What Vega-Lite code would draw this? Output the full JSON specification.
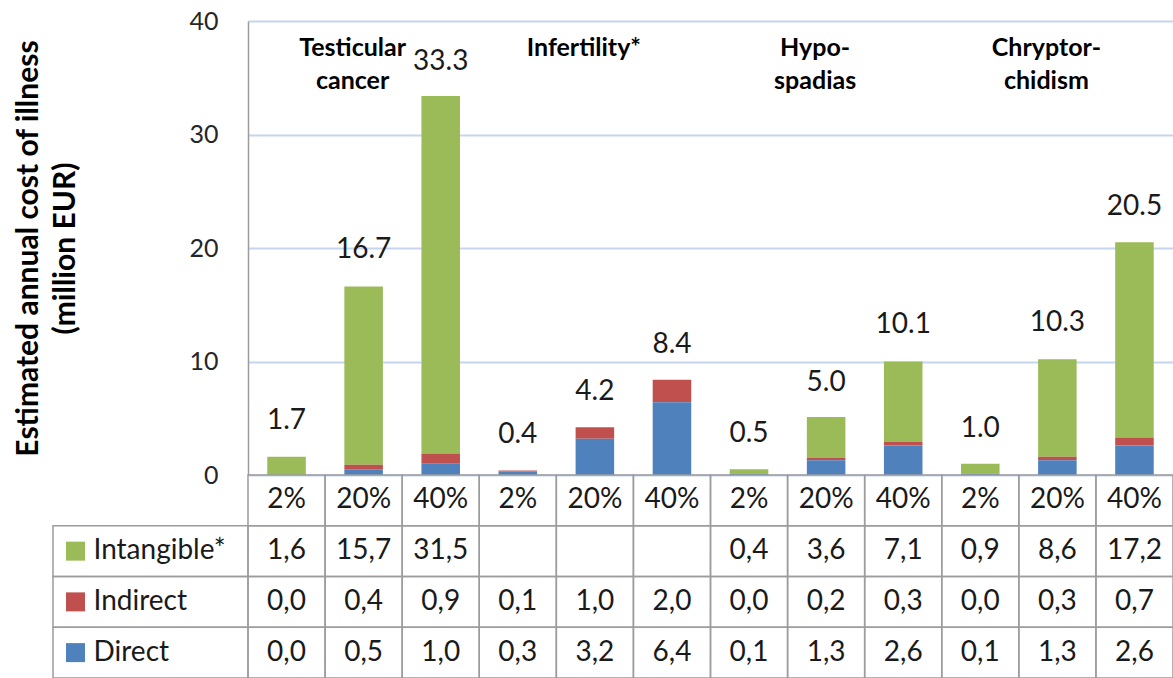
{
  "$schema": "https://vega.github.io/schema/vega-lite/v6.json",
  "width": 925,
  "height": 454,
  "autosize": {"type": "none"},
  "padding": {"left": 248, "top": 21, "right": 0, "bottom": 203},
  "background": "white",
  "config": {
    "font": "Lato",
    "view": {"stroke": null},
    "axis": {"labelFont": "Lato", "titleFont": "Lato"}
  },
  "datasets": {
    "bars": [
      {"disease": "Testicular cancer", "scenario": "2%", "component": "Intangible*", "value": 1.6},
      {"disease": "Testicular cancer", "scenario": "2%", "component": "Indirect", "value": 0.0},
      {"disease": "Testicular cancer", "scenario": "2%", "component": "Direct", "value": 0.0},
      {"disease": "Testicular cancer", "scenario": "20%", "component": "Intangible*", "value": 15.7},
      {"disease": "Testicular cancer", "scenario": "20%", "component": "Indirect", "value": 0.4},
      {"disease": "Testicular cancer", "scenario": "20%", "component": "Direct", "value": 0.5},
      {"disease": "Testicular cancer", "scenario": "40%", "component": "Intangible*", "value": 31.5},
      {"disease": "Testicular cancer", "scenario": "40%", "component": "Indirect", "value": 0.9},
      {"disease": "Testicular cancer", "scenario": "40%", "component": "Direct", "value": 1.0},
      {"disease": "Infertility*", "scenario": "2%", "component": "Intangible*", "value": null},
      {"disease": "Infertility*", "scenario": "2%", "component": "Indirect", "value": 0.1},
      {"disease": "Infertility*", "scenario": "2%", "component": "Direct", "value": 0.3},
      {"disease": "Infertility*", "scenario": "20%", "component": "Intangible*", "value": null},
      {"disease": "Infertility*", "scenario": "20%", "component": "Indirect", "value": 1.0},
      {"disease": "Infertility*", "scenario": "20%", "component": "Direct", "value": 3.2},
      {"disease": "Infertility*", "scenario": "40%", "component": "Intangible*", "value": null},
      {"disease": "Infertility*", "scenario": "40%", "component": "Indirect", "value": 2.0},
      {"disease": "Infertility*", "scenario": "40%", "component": "Direct", "value": 6.4},
      {"disease": "Hypospadias", "scenario": "2%", "component": "Intangible*", "value": 0.4},
      {"disease": "Hypospadias", "scenario": "2%", "component": "Indirect", "value": 0.0},
      {"disease": "Hypospadias", "scenario": "2%", "component": "Direct", "value": 0.1},
      {"disease": "Hypospadias", "scenario": "20%", "component": "Intangible*", "value": 3.6},
      {"disease": "Hypospadias", "scenario": "20%", "component": "Indirect", "value": 0.2},
      {"disease": "Hypospadias", "scenario": "20%", "component": "Direct", "value": 1.3},
      {"disease": "Hypospadias", "scenario": "40%", "component": "Intangible*", "value": 7.1},
      {"disease": "Hypospadias", "scenario": "40%", "component": "Indirect", "value": 0.3},
      {"disease": "Hypospadias", "scenario": "40%", "component": "Direct", "value": 2.6},
      {"disease": "Chryptorchidism", "scenario": "2%", "component": "Intangible*", "value": 0.9},
      {"disease": "Chryptorchidism", "scenario": "2%", "component": "Indirect", "value": 0.0},
      {"disease": "Chryptorchidism", "scenario": "2%", "component": "Direct", "value": 0.1},
      {"disease": "Chryptorchidism", "scenario": "20%", "component": "Intangible*", "value": 8.6},
      {"disease": "Chryptorchidism", "scenario": "20%", "component": "Indirect", "value": 0.3},
      {"disease": "Chryptorchidism", "scenario": "20%", "component": "Direct", "value": 1.3},
      {"disease": "Chryptorchidism", "scenario": "40%", "component": "Intangible*", "value": 17.2},
      {"disease": "Chryptorchidism", "scenario": "40%", "component": "Indirect", "value": 0.7},
      {"disease": "Chryptorchidism", "scenario": "40%", "component": "Direct", "value": 2.6}
    ],
    "totals": [
      {"disease": "Testicular cancer", "scenario": "2%", "total": 1.7},
      {"disease": "Testicular cancer", "scenario": "20%", "total": 16.7},
      {"disease": "Testicular cancer", "scenario": "40%", "total": 33.3},
      {"disease": "Infertility*", "scenario": "2%", "total": 0.4},
      {"disease": "Infertility*", "scenario": "20%", "total": 4.2},
      {"disease": "Infertility*", "scenario": "40%", "total": 8.4},
      {"disease": "Hypospadias", "scenario": "2%", "total": 0.5},
      {"disease": "Hypospadias", "scenario": "20%", "total": 5.0},
      {"disease": "Hypospadias", "scenario": "40%", "total": 10.1},
      {"disease": "Chryptorchidism", "scenario": "2%", "total": 1.0},
      {"disease": "Chryptorchidism", "scenario": "20%", "total": 10.3},
      {"disease": "Chryptorchidism", "scenario": "40%", "total": 20.5}
    ],
    "headers": [
      {"disease": "Testicular cancer", "label": "Testicular\ncancer"},
      {"disease": "Infertility*", "label": "Infertility*"},
      {"disease": "Hypospadias", "label": "Hypo-\nspadias"},
      {"disease": "Chryptorchidism", "label": "Chryptor-\nchidism"}
    ],
    "legend": [
      {"component": "Intangible*"},
      {"component": "Indirect"},
      {"component": "Direct"}
    ]
  },
  "layer": [
    {
      "layer": [
        {
          "data": {"name": "bars"},
          "transform": [
            {"calculate": "datum.disease + '|' + datum.scenario", "as": "key"},
            {"filter": "isValid(datum.value)"}
          ],
          "mark": {"type": "bar", "width": {"band": 0.5}},
          "encoding": {
            "x": {
              "field": "key", "type": "nominal",
              "scale": {
                "type": "band", "paddingInner": 0, "paddingOuter": 0,
                "domain": ["Testicular cancer|2%", "Testicular cancer|20%", "Testicular cancer|40%", "Infertility*|2%", "Infertility*|20%", "Infertility*|40%", "Hypospadias|2%", "Hypospadias|20%", "Hypospadias|40%", "Chryptorchidism|2%", "Chryptorchidism|20%", "Chryptorchidism|40%"]
              },
              "axis": null
            },
            "y": {
              "field": "value", "type": "quantitative", "stack": "zero",
              "scale": {"domain": [0, 40], "nice": false},
              "axis": {
                "values": [0, 10, 20, 30, 40],
                "title": ["Estimated annual cost of illness", "(million EUR)"],
                "titleFontSize": 30, "titleFontWeight": "bold", "titleColor": "#000000",
                "titleLineHeight": 37, "titlePadding": 108,
                "labelFontSize": 25, "labelColor": "#262626", "labelPadding": 30,
                "ticks": false,
                "domain": true, "domainColor": "#9c9c9c", "domainWidth": 1.5,
                "grid": true, "gridColor": "#c6d5ee", "gridWidth": 2
              }
            },
            "color": {
              "field": "component", "type": "nominal",
              "scale": {"domain": ["Intangible*", "Indirect", "Direct"], "range": ["#9bbb59", "#c0504d", "#4f81bd"]},
              "legend": null
            },
            "order": {"field": "component", "type": "ordinal", "sort": "ascending"}
          }
        },
        {
          "data": {"name": "totals"},
          "transform": [{"calculate": "datum.disease + '|' + datum.scenario", "as": "key"}],
          "mark": {"type": "text", "fontSize": 28, "color": "#1a1a1a", "baseline": "middle", "dy": -35},
          "encoding": {
            "x": {"field": "key", "type": "nominal"},
            "y": {"field": "total", "type": "quantitative"},
            "text": {"field": "total", "type": "quantitative", "format": ".1f"}
          }
        },
        {
          "data": {"name": "headers"},
          "transform": [{"calculate": "datum.disease + '|20%'", "as": "key"}],
          "mark": {"type": "text", "fontSize": 25, "fontWeight": "bold", "color": "#000000", "baseline": "top", "dy": 15, "dx": -11, "lineBreak": "\n", "lineHeight": 33},
          "encoding": {
            "x": {"field": "key", "type": "nominal"},
            "y": {"datum": 40, "type": "quantitative"},
            "text": {"field": "label", "type": "nominal"}
          }
        }
      ]
    },
    {
      "layer": [
        {
          "data": {"name": "bars"},
          "transform": [{"calculate": "datum.disease + '|' + datum.scenario", "as": "key"}],
          "mark": {"type": "rect", "fillOpacity": 0, "stroke": "#9c9c9c", "strokeWidth": 1.5},
          "encoding": {
            "x": {
              "field": "key", "type": "nominal",
              "scale": {
                "type": "band", "paddingInner": 0, "paddingOuter": 0,
                "domain": ["Testicular cancer|2%", "Testicular cancer|20%", "Testicular cancer|40%", "Infertility*|2%", "Infertility*|20%", "Infertility*|40%", "Hypospadias|2%", "Hypospadias|20%", "Hypospadias|40%", "Chryptorchidism|2%", "Chryptorchidism|20%", "Chryptorchidism|40%"]
              },
              "axis": null
            },
            "y": {
              "field": "component", "type": "nominal",
              "scale": {"type": "band", "domain": ["hdr", "Intangible*", "Indirect", "Direct"], "range": [454, 657], "paddingInner": 0, "paddingOuter": 0},
              "axis": null
            }
          }
        },
        {
          "data": {"name": "totals"},
          "transform": [{"calculate": "datum.disease + '|' + datum.scenario", "as": "key"}],
          "mark": {"type": "rect", "fillOpacity": 0, "stroke": "#9c9c9c", "strokeWidth": 1.5},
          "encoding": {
            "x": {"field": "key", "type": "nominal", "axis": null},
            "y": {"datum": "hdr", "type": "nominal", "axis": null}
          }
        },
        {
          "data": {"name": "bars"},
          "transform": [
            {"calculate": "datum.disease + '|' + datum.scenario", "as": "key"},
            {"calculate": "isValid(datum.value) ? replace(format(datum.value, '.1f'), '.', ',') : ''", "as": "label"}
          ],
          "mark": {"type": "text", "fontSize": 28, "color": "#1a1a1a", "baseline": "middle"},
          "encoding": {
            "x": {"field": "key", "type": "nominal", "axis": null},
            "y": {"field": "component", "type": "nominal", "axis": null},
            "text": {"field": "label", "type": "nominal"}
          }
        },
        {
          "data": {"name": "totals"},
          "transform": [{"calculate": "datum.disease + '|' + datum.scenario", "as": "key"}],
          "mark": {"type": "text", "fontSize": 28, "color": "#1a1a1a", "baseline": "middle"},
          "encoding": {
            "x": {"field": "key", "type": "nominal", "axis": null},
            "y": {"datum": "hdr", "type": "nominal", "axis": null},
            "text": {"field": "scenario", "type": "nominal"}
          }
        }
      ]
    },
    {
      "data": {"name": "legend"},
      "layer": [
        {
          "mark": {"type": "rect", "fillOpacity": 0, "stroke": "#9c9c9c", "strokeWidth": 1.5},
          "encoding": {
            "x": {
              "datum": "legend", "type": "nominal",
              "scale": {"type": "band", "domain": ["legend"], "range": [-195, 0], "paddingInner": 0, "paddingOuter": 0},
              "axis": null
            },
            "y": {
              "field": "component", "type": "nominal",
              "scale": {"type": "band", "domain": ["hdr", "Intangible*", "Indirect", "Direct"], "range": [454, 657], "paddingInner": 0, "paddingOuter": 0},
              "axis": null
            }
          }
        },
        {
          "mark": {"type": "square", "size": 361, "opacity": 1, "filled": true, "xOffset": -75},
          "encoding": {
            "x": {"datum": "legend", "type": "nominal", "axis": null},
            "y": {"field": "component", "type": "nominal", "axis": null},
            "color": {"field": "component", "type": "nominal", "legend": null}
          }
        },
        {
          "mark": {"type": "text", "fontSize": 28, "color": "#1a1a1a", "baseline": "middle", "align": "left", "dx": -57},
          "encoding": {
            "x": {"datum": "legend", "type": "nominal", "axis": null},
            "y": {"field": "component", "type": "nominal", "axis": null},
            "text": {"field": "component", "type": "nominal"}
          }
        }
      ]
    }
  ],
  "resolve": {"scale": {"x": "independent", "y": "independent"}}
}
